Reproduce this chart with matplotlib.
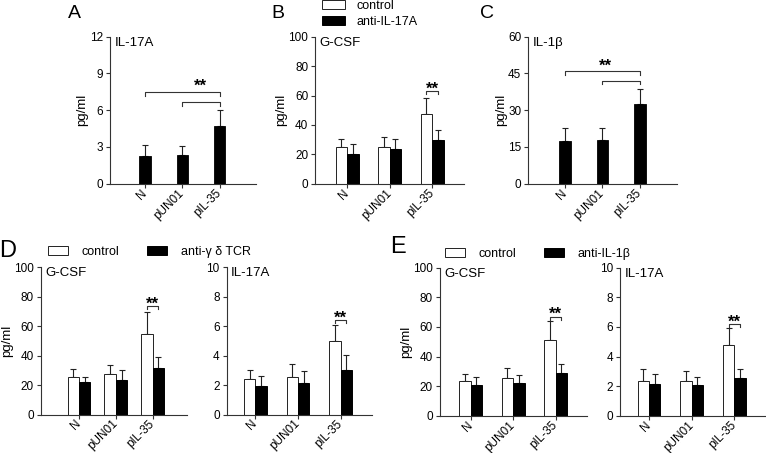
import matplotlib.pyplot as plt
import numpy as np

plt.rcParams['font.family'] = ['Liberation Sans', 'DejaVu Sans']
plt.rcParams['axes.linewidth'] = 0.8

groups = ['N', 'pUN01', 'pIL-35']

# A: IL-17A
a_mean = [2.25, 2.33, 4.67]
a_err = [0.93, 0.71, 1.36]

# B: G-CSF, control vs anti-IL-17A
b_ctrl = [24.7, 25.3, 47.5]
b_ctrl_err = [5.6, 6.4, 11.1]
b_anti = [20.4, 23.8, 29.4]
b_anti_err = [6.7, 6.7, 7.3]

# C: IL-1beta
c_mean = [17.3, 18.0, 32.7]
c_err = [5.6, 4.6, 6.1]

# D: control vs anti-gamma delta TCR
d_gcsf_ctrl = [25.5, 27.3, 54.5]
d_gcsf_ctrl_err = [5.6, 6.6, 15.0]
d_gcsf_anti = [21.8, 23.6, 31.8]
d_gcsf_anti_err = [3.9, 6.9, 7.3]
d_il17_ctrl = [2.40, 2.58, 5.02]
d_il17_ctrl_err = [0.65, 0.88, 1.07]
d_il17_anti = [1.92, 2.13, 3.05]
d_il17_anti_err = [0.70, 0.83, 1.02]

# E: control vs anti-IL-1beta
e_gcsf_ctrl = [23.6, 25.2, 51.4]
e_gcsf_ctrl_err = [4.8, 6.7, 12.6]
e_gcsf_anti = [20.7, 21.8, 28.8]
e_gcsf_anti_err = [5.2, 5.9, 6.3]
e_il17_ctrl = [2.36, 2.36, 4.80]
e_il17_ctrl_err = [0.77, 0.64, 1.10]
e_il17_anti = [2.12, 2.05, 2.52]
e_il17_anti_err = [0.70, 0.59, 0.61]

W, H = 766, 453
fig = plt.figure(figsize=(W / 100, H / 100), dpi=100)


def px_axes(x0, x1, ytop, ybot):
    return fig.add_axes([x0 / W, 1 - ybot / H, (x1 - x0) / W, (ybot - ytop) / H])


def style(ax, ymax, step, xlim, title, ylabel=True):
    ax.set_xlim(xlim)
    ax.set_ylim(0, ymax)
    ax.set_yticks(np.arange(0, ymax + step / 2, step))
    ax.set_xticks(range(len(groups)))
    ax.set_xticklabels(groups, rotation=45, ha='right', va='center', rotation_mode='anchor',
                       fontsize=8.8)
    ax.spines[['top', 'right']].set_visible(False)
    ax.spines[['left', 'bottom']].set_color('#333333')
    ax.tick_params(length=3, width=0.8, labelsize=8.5, pad=2, color='#333333')
    ax.tick_params(axis='x', pad=2.5)
    ax.text(0.03, 1.0, title, transform=ax.transAxes, va='top', fontsize=9.5)
    if ylabel:
        ax.set_ylabel('pg/ml', fontsize=9.5, labelpad=1)


def upper_err(ax, x, mean, err):
    ax.errorbar(x, mean, yerr=[np.zeros(len(err)), err], fmt='none', ecolor='#222222',
                elinewidth=0.8, capsize=2.5, capthick=0.8, zorder=1)


def bracket(ax, x0, x1, y, drop):
    ax.plot([x0, x0, x1, x1], [y - drop, y, y, y - drop], color='#333333', lw=0.8)


def stars(ax, x, y, dy):
    ax.annotate('**', xy=(x, y), xytext=(0, dy), textcoords='offset points',
                ha='center', va='baseline', fontsize=12, fontweight='bold')


def single_panel(ax, mean, err, width):
    x = np.arange(len(groups))
    upper_err(ax, x, mean, err)
    ax.bar(x, mean, width, color='black', edgecolor='black', linewidth=0.6, zorder=2)


def paired_panel(ax, ctrl, ctrl_err, anti, anti_err, width, labels=None):
    x = np.arange(len(groups))
    upper_err(ax, x - width / 2, ctrl, ctrl_err)
    upper_err(ax, x + width / 2, anti, anti_err)
    ax.bar(x - width / 2, ctrl, width, color='white', edgecolor='#222222', linewidth=0.7,
           zorder=2, label=labels[0] if labels else None)
    ax.bar(x + width / 2, anti, width, color='black', edgecolor='black', linewidth=0.7,
           zorder=2, label=labels[1] if labels else None)


def row_legend(ax, x, y):
    ax.legend(loc='center left', bbox_to_anchor=(x / W, 1 - y / H), bbox_transform=fig.transFigure,
              frameon=False, fontsize=9, ncol=2, handlelength=1.6, handleheight=0.7,
              handletextpad=1.1, columnspacing=2.2, borderpad=0, borderaxespad=0)


# ---- top row ----
axA = px_axes(110, 256, 36.7, 183.7)
single_panel(axA, a_mean, a_err, 0.3)
style(axA, 12, 3, (-0.94, 2.98), 'IL-17A')
bracket(axA, 0, 2, 7.5, 0.3)
bracket(axA, 1, 2, 6.7, 0.35)
stars(axA, 1.48, 7.5, 0.5)

axB = px_axes(315.3, 464, 36.7, 183.7)
paired_panel(axB, b_ctrl, b_ctrl_err, b_anti, b_anti_err, 0.27, ('control', 'anti-IL-17A'))
style(axB, 100, 20, (-0.75, 2.75), 'G-CSF')
bracket(axB, 2 - 0.135, 2 + 0.135, 63, 2.2)
stars(axB, 2, 63, -1.8)
axB.legend(loc='center left', bbox_to_anchor=(321.7 / W, 1 - 14 / H), bbox_transform=fig.transFigure,
           frameon=False, fontsize=9, handlelength=1.85, handleheight=0.7, handletextpad=0.9,
           labelspacing=0.3, borderpad=0, borderaxespad=0)

axC = px_axes(528.3, 677, 36.7, 183.7)
single_panel(axC, c_mean, c_err, 0.3)
style(axC, 60, 15, (-0.98, 2.99), 'IL-1β')
bracket(axC, 0, 2, 45.8, 1.6)
bracket(axC, 1, 2, 42.1, 1.5)
stars(axC, 1.07, 45.8, 0.5)

# ---- bottom row ----
axD1 = px_axes(41, 187, 267.3, 414.5)
paired_panel(axD1, d_gcsf_ctrl, d_gcsf_ctrl_err, d_gcsf_anti, d_gcsf_anti_err, 0.31,
             ('control', 'anti-γ δ TCR'))
style(axD1, 100, 20, (-1.03, 2.93), 'G-CSF')
bracket(axD1, 2 - 0.155, 2 + 0.155, 73.6, 2.2)
stars(axD1, 2, 73.6, -1.8)
row_legend(axD1, 48, 251.7)

axD2 = px_axes(226.7, 371.7, 267.3, 414.5)
paired_panel(axD2, d_il17_ctrl, d_il17_ctrl_err, d_il17_anti, d_il17_anti_err, 0.265)
style(axD2, 10, 2, (-0.67, 2.73), 'IL-17A', ylabel=False)
bracket(axD2, 2 - 0.1325, 2 + 0.1325, 6.43, 0.22)
stars(axD2, 2, 6.43, -1.8)

axE1 = px_axes(440, 587, 267.7, 415.7)
paired_panel(axE1, e_gcsf_ctrl, e_gcsf_ctrl_err, e_gcsf_anti, e_gcsf_anti_err, 0.27,
             ('control', 'anti-IL-1β'))
style(axE1, 100, 20, (-0.72, 2.74), 'G-CSF')
bracket(axE1, 2 - 0.135, 2 + 0.135, 66.9, 2.2)
stars(axE1, 2, 66.9, -1.8)
row_legend(axE1, 445, 254)

axE2 = px_axes(620, 765, 267.7, 415.7)
paired_panel(axE2, e_il17_ctrl, e_il17_ctrl_err, e_il17_anti, e_il17_anti_err, 0.265)
style(axE2, 10, 2, (-0.68, 2.72), 'IL-17A', ylabel=False)
bracket(axE2, 2 - 0.1325, 2 + 0.1325, 6.19, 0.22)
stars(axE2, 2, 6.19, -1.8)

# panel letters
for letter, x, y, size in [('A', 68, 18.3, 14), ('B', 271.7, 18.3, 14), ('C', 480, 18.3, 14),
                           ('D', -1, 256.7, 17), ('E', 390, 253.3, 17)]:
    fig.text(x / W, 1 - y / H, letter, fontsize=size, va='baseline', ha='left')

fig.savefig('out.png', dpi=100)
